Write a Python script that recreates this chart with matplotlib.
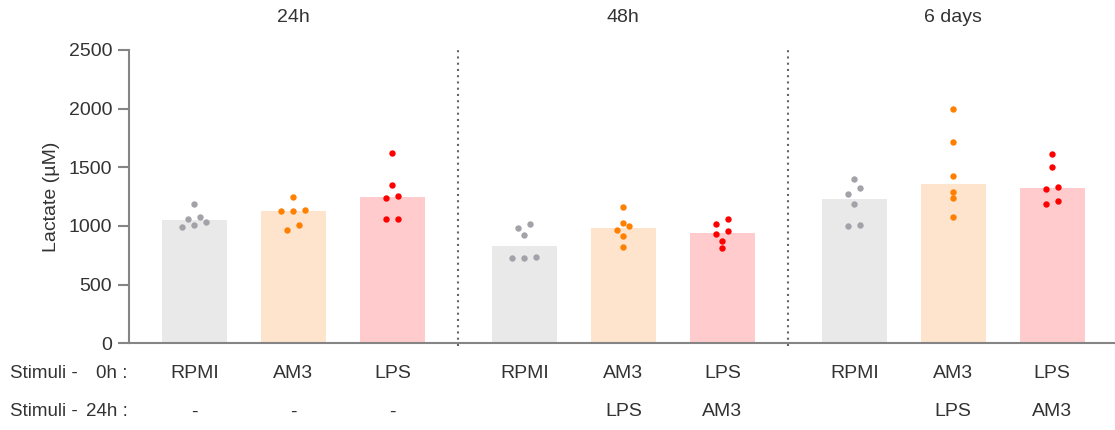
import numpy as np
import matplotlib.pyplot as plt
from matplotlib.transforms import blended_transform_factory

plt.rcParams['font.family'] = ['Liberation Sans', 'DejaVu Sans']

timepoints = ["24h", "48h", "6 days"]
stim_0h = ["RPMI", "AM3", "LPS"]
stim_24h_24 = ["-", "-", "-"]
stim_24h_48 = ["", "LPS", "AM3"]
stim_24h_6d = ["", "LPS", "AM3"]

# lactate (uM), one list per stimulus, per time point
lactate_24h = [
    [989, 1006, 1034, 1062, 1076, 1190],
    [966, 1008, 1130, 1130, 1136, 1247],
    [1057, 1062, 1236, 1258, 1349, 1625],
]
lactate_48h = [
    [727, 727, 736, 920, 980, 1017],
    [821, 917, 968, 1002, 1025, 1162],
    [810, 869, 932, 955, 1017, 1062],
]
lactate_6d = [
    [1000, 1006, 1190, 1275, 1321, 1398],
    [1076, 1238, 1287, 1426, 1716, 1997],
    [1185, 1213, 1313, 1335, 1503, 1613],
]

bar_colors = ["#e9e9e9", "#fee4cd", "#ffcbcc"]
dot_colors = ["#a2a2a9", "#ff8000", "#ff0000"]
text_color = "#333333"
axis_color = "#858585"
fs = 14


def swarm_offsets(values, gap=48, step=0.12):
    # group points of similar height into rows and spread each row sideways
    values = np.asarray(values, dtype=float)
    order = np.argsort(values, kind="stable")
    rows = []
    for idx in order:
        if rows and values[idx] - values[rows[-1][0]] < gap:
            rows[-1].append(idx)
        else:
            rows.append([idx])
    offsets = np.zeros(len(values))
    for row in rows:
        n = len(row)
        for k, idx in enumerate(row):
            offsets[idx] = (k - (n - 1) / 2) * step
    return offsets


fig = plt.figure(figsize=(11.15, 4.3), dpi=100)
ax = fig.add_axes([129 / 1115, 1 - 343.3 / 430, 1 - 129 / 1115, (343.3 - 50) / 430])

groups = [lactate_24h, lactate_48h, lactate_6d]
second_row = [stim_24h_24, stim_24h_48, stim_24h_6d]
group_step = 3 + 1 / 3

trans = blended_transform_factory(ax.transData, fig.transFigure)

for g, data in enumerate(groups):
    base = g * group_step
    for i, vals in enumerate(data):
        x = base + i
        ax.bar(x, np.median(vals), width=0.66, color=bar_colors[i], zorder=1)
        xs = x + swarm_offsets(vals)
        ax.plot(xs, vals, "o", ms=4.6, color=dot_colors[i], mew=0, zorder=3)
        ax.text(x, 1 - 373 / 430, stim_0h[i], transform=trans, ha="center",
                va="center", fontsize=fs, color=text_color)
        ax.text(x, 1 - 412 / 430, second_row[g][i], transform=trans, ha="center",
                va="center", fontsize=fs, color=text_color)
    ax.text(base + 1, 1 - 18 / 430, timepoints[g], transform=trans, ha="center",
            va="center", fontsize=fs, color=text_color)
    if g > 0:
        # dotted separator halfway between neighbouring groups
        xd = (base - group_step + 2 + base) / 2
        ax.plot([xd, xd], [-20, 2500], linestyle=(0, (1, 2)), lw=1.5,
                color="#666666", clip_on=False, zorder=2)

# row captions on the left
fig.text(10 / 1115, 1 - 373 / 430, "Stimuli -", ha="left", va="center",
         fontsize=13.5, color=text_color)
fig.text(128 / 1115, 1 - 373 / 430, "0h :", ha="right", va="center",
         fontsize=13.5, color=text_color)
fig.text(10 / 1115, 1 - 412 / 430, "Stimuli -", ha="left", va="center",
         fontsize=13.5, color=text_color)
fig.text(128 / 1115, 1 - 412 / 430, "24h :", ha="right", va="center",
         fontsize=13.5, color=text_color)

ax.set_ylim(0, 2500)
ax.set_xlim(-0.66, 9.3)
ax.set_yticks([0, 500, 1000, 1500, 2000, 2500])
ax.set_xticks([])
ax.set_ylabel("Lactate (µM)", fontsize=fs, color=text_color, labelpad=6)

for side in ["top", "right"]:
    ax.spines[side].set_visible(False)
for side in ["left", "bottom"]:
    ax.spines[side].set_color(axis_color)
    ax.spines[side].set_linewidth(1.5)
ax.tick_params(axis="y", length=8, width=1.5, color=axis_color,
               labelsize=fs, labelcolor=text_color, pad=4)

plt.savefig("out.png", dpi=100)
